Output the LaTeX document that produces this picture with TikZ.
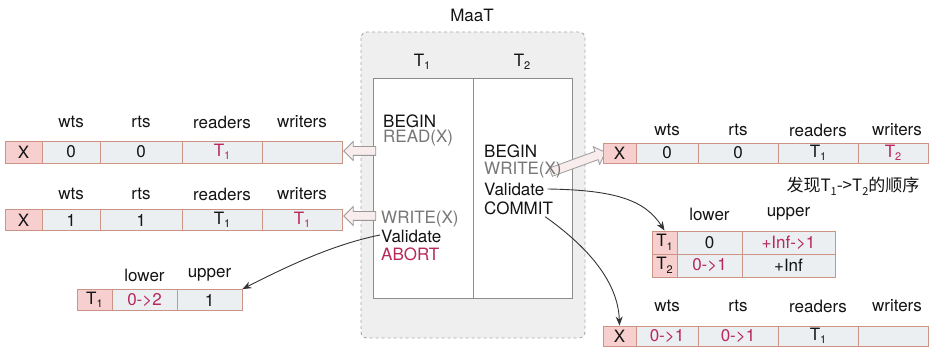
\documentclass[tikz,border=0pt]{standalone}
\usepackage{fontspec}
\setmainfont{TeX Gyre Heros}
\newfontfamily\cjk{Noto Sans CJK SC}
\usetikzlibrary{shapes.arrows,arrows.meta,calc}
\definecolor{cellfill}{HTML}{ECEFF2}
\definecolor{cellborder}{HTML}{CC9484}
\definecolor{keyfill}{HTML}{F7CFCF}
\definecolor{redtxt}{HTML}{B8285A}
\definecolor{graytxt}{HTML}{777777}
\definecolor{boxfill}{HTML}{EFEFEF}
\definecolor{dashcol}{HTML}{A8A8A8}
\definecolor{arrfill}{HTML}{F8ECEC}
\newcommand\Ts[1]{T\raisebox{-0.4ex}{\fontsize{11}{11}\selectfont #1}}
\begin{document}
\begin{tikzpicture}[x=1pt,y=-1pt,
  every node/.style={font=\fontsize{17}{19}\selectfont, text=black!92},
  cell/.style={draw=cellborder, fill=cellfill, line width=0.9pt, inner sep=0pt},
  keycell/.style={cell, fill=keyfill},
  hdr/.style={inner sep=0pt},
  stmt/.style={inner sep=0pt, anchor=west},
  red/.style={text=redtxt},
  gry/.style={text=graytxt},
  conn/.style={draw=black!80, line width=0.9pt, -{Stealth[length=9pt,width=7pt]}},
  fat/.style={single arrow, draw=black!40, fill=arrfill, line width=0.8pt,
    minimum width=0pt, inner xsep=0pt, inner ysep=4pt,
    single arrow head extend=5pt, single arrow head indent=0pt}
]
\useasboundingbox (0,0) rectangle (930,347);

% ---------- MaaT box ----------
\node[hdr] (maat) at (472,15) {MaaT};
\draw[dashcol, fill=boxfill, dashed, line width=0.9pt, rounded corners=6pt] (361,32) rectangle (585,338);
\draw[black!45, fill=white, line width=0.9pt] (373,78) rectangle (572,298);
\draw[black!45, line width=0.9pt] (473,78) -- (473,298);
\node[hdr] (t1h) at (422,62) {\Ts{1}};
\node[hdr] (t2h) at (522,62) {\Ts{2}};

% ---------- hollow arrows (behind the statements) ----------
\node[fat, minimum height=32pt, shape border rotate=180] (fa1) at (362,151) {};
\node[fat, minimum height=32pt, shape border rotate=180] (fa2) at (362,216) {};
\node[fat, minimum height=58pt, rotate=20] (fa3) at (576,163) {};

% T1 statements
\node[stmt] (t1begin) at (383,121) {BEGIN};
\node[stmt, gry] (t1read) at (383,138) {READ(X)};
\node[stmt, gry] (t1write) at (381,219) {WRITE(X)};
\node[stmt] (t1val) at (381,236) {Validate};
\node[stmt, red] (t1abort) at (381,254) {ABORT};
% T2 statements
\node[stmt] (t2begin) at (484,151) {BEGIN};
\node[stmt, gry] (t2write) at (484,170) {WRITE(X)};
\node[stmt] (t2val) at (484,189) {Validate};
\node[stmt] (t2commit) at (484,208) {COMMIT};

% ---------- left table 1 ----------
\foreach \n/\x in {wts/71, rts/141, readers/222, writers/302}
  \node[hdr] (la\n) at (\x,122) {\n};
\node[keycell, minimum width=37pt, minimum height=22pt] (lax) at (23.5,152) {X};
\node[cell, minimum width=58pt, minimum height=22pt] (law) at (71,152) {0};
\node[cell, minimum width=82pt, minimum height=22pt] (lar) at (141,152) {0};
\node[cell, minimum width=80pt, minimum height=22pt, red] (lard) at (222,152) {\Ts{1}};
\node[cell, minimum width=80pt, minimum height=22pt] (lawr) at (302,152) {};

% ---------- left table 2 ----------
\foreach \n/\x in {wts/71, rts/141, readers/222, writers/302}
  \node[hdr] (lb\n) at (\x,194) {\n};
\node[keycell, minimum width=37pt, minimum height=21pt] (lbx) at (23.5,220) {X};
\node[cell, minimum width=58pt, minimum height=21pt] (lbw) at (71,220) {1};
\node[cell, minimum width=82pt, minimum height=21pt] (lbr) at (141,220) {1};
\node[cell, minimum width=80pt, minimum height=21pt] (lbrd) at (222,220) {\Ts{1}};
\node[cell, minimum width=80pt, minimum height=21pt, red] (lbwr) at (302,220) {\Ts{1}};

% ---------- bottom-left lower/upper ----------
\node[hdr] (lclow) at (144.5,275) {lower};
\node[hdr] (lcup) at (209.5,275) {upper};
\node[keycell, minimum width=35pt, minimum height=21pt] (lct) at (94.5,300) {\Ts{1}};
\node[cell, minimum width=65pt, minimum height=21pt, red] (lcl) at (144.5,300) {0->2};
\node[cell, minimum width=65pt, minimum height=21pt] (lcu) at (209.5,300) {1};

% ---------- right table 1 ----------
\foreach \n/\x in {wts/667, rts/738, readers/818, writers/897}
  \node[hdr] (ra\n) at (\x,130) {\n};
\node[keycell, minimum width=33pt, minimum height=20pt] (rax) at (619.5,153) {X};
\node[cell, minimum width=62pt, minimum height=20pt] (raw) at (667,153) {0};
\node[cell, minimum width=80pt, minimum height=20pt] (rar) at (738,153) {0};
\node[cell, minimum width=80pt, minimum height=20pt] (rard) at (818,153) {\Ts{1}};
\node[cell, minimum width=70pt, minimum height=20pt, red] (rawr) at (893,153) {\Ts{2}};
\node[hdr] (note) at (853,186) {\cjk 发现\Ts{1}->\Ts{2}的顺序};

% ---------- right lower/upper ----------
\node[hdr] (rblow) at (709.5,214) {lower};
\node[hdr] (rbup) at (788.5,214) {upper};
\node[keycell, minimum width=25pt, minimum height=23pt] (rbt1) at (664.5,242.5) {\Ts{1}};
\node[cell, minimum width=65pt, minimum height=23pt] (rbl1) at (709.5,242.5) {0};
\node[cell, minimum width=93pt, minimum height=23pt, red] (rbu1) at (788.5,242.5) {+Inf->1};
\node[keycell, minimum width=25pt, minimum height=23pt] (rbt2) at (664.5,265.5) {\Ts{2}};
\node[cell, minimum width=65pt, minimum height=23pt, red] (rbl2) at (709.5,265.5) {0->1};
\node[cell, minimum width=93pt, minimum height=23pt] (rbu2) at (788.5,265.5) {+Inf};

% ---------- right table 2 ----------
\foreach \n/\x in {wts/667, rts/738, readers/818, writers/897}
  \node[hdr] (rc\n) at (\x,306) {\n};
\node[keycell, minimum width=33pt, minimum height=20pt] (rcx) at (619.5,336) {X};
\node[cell, minimum width=62pt, minimum height=20pt, red] (rcw) at (667,336) {0->1};
\node[cell, minimum width=80pt, minimum height=20pt, red] (rcr) at (738,336) {0->1};
\node[cell, minimum width=80pt, minimum height=20pt] (rcrd) at (818,336) {\Ts{1}};
\node[cell, minimum width=70pt, minimum height=20pt] (rcwr) at (893,336) {};

% ---------- connectors ----------
\draw[conn] ($(t1val.west)+(-1,-1)$) .. controls (330,245) and (280,270) .. (lcu.north east);
\draw[conn] ($(t2val.east)+(3,0)$) .. controls (615,190) and (645,200) .. (rbt1.north);
\draw[conn] ($(t2commit.south east)+(-8,2)$) .. controls (585,245) and (618,280) .. (rcx.north);
\end{tikzpicture}
\end{document}
